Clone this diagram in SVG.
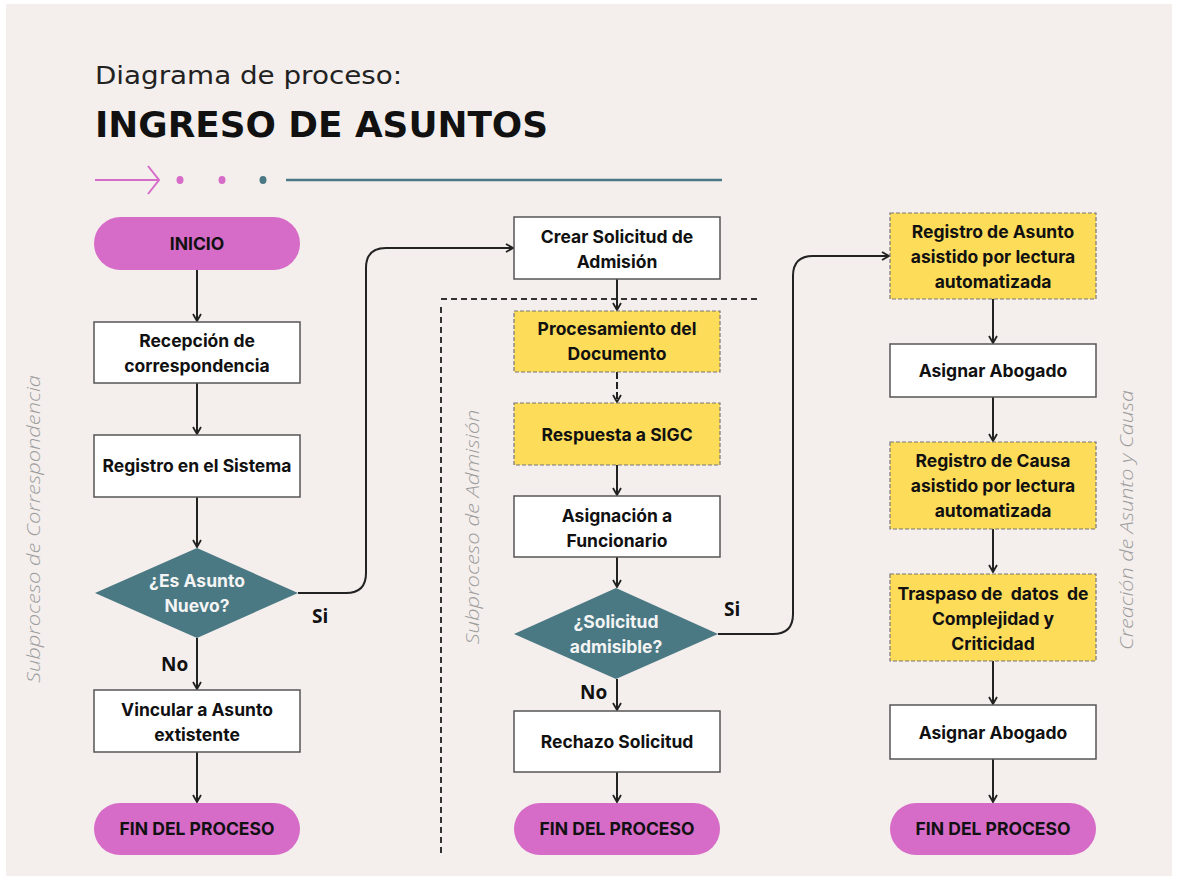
<svg xmlns="http://www.w3.org/2000/svg" width="1177" height="884" viewBox="0 0 1177 884">
<defs>
<style>
.bg{fill:#F4EFEC}
.pill{fill:#D66BC8}
.box{fill:#FFFFFF;stroke:#555;stroke-width:1.5}
.ybox{fill:#FDDC5A;stroke:#777;stroke-width:1.2;stroke-dasharray:4 2}
.dia{fill:#4A7984}
.lbl{font-family:Inter,'Liberation Sans',sans-serif;font-weight:700;font-size:17.5px;fill:#111;text-anchor:middle}
.wlbl{font-family:Inter,'Liberation Sans',sans-serif;font-weight:700;font-size:17.5px;fill:#F4F4F4;text-anchor:middle}
.yn{font-family:'Open Sans','Liberation Sans',sans-serif;font-weight:700;font-size:19px;fill:#111}
.side{font-family:'Open Sans','Liberation Sans',sans-serif;font-style:italic;font-weight:300;font-size:19px;fill:#9C9C9C;text-anchor:middle}
.con{fill:none;stroke:#222;stroke-width:2;marker-end:url(#ah)}
</style>
<marker id="ah" viewBox="0 0 10 10" refX="9" refY="5" markerWidth="10" markerHeight="10" markerUnits="userSpaceOnUse" orient="auto">
<path d="M2,1 L9,5 L2,9" fill="none" stroke="#222" stroke-width="1.8"/>
</marker>
</defs>
<rect x="0" y="0" width="1177" height="884" fill="#FFFFFF"/>
<rect class="bg" x="6" y="4" width="1166" height="872"/>

<g id="header">
<text x="95" y="84" font-family="'DejaVu Sans',sans-serif" font-size="24" fill="#222" textLength="307" lengthAdjust="spacingAndGlyphs">Diagrama de proceso:</text>
<text x="95" y="137" font-family="'DejaVu Sans',sans-serif" font-weight="700" font-size="36" fill="#111" textLength="453" lengthAdjust="spacingAndGlyphs">INGRESO DE ASUNTOS</text>
<path d="M95,180 H158 M148,166 L159,180 L148,194" fill="none" stroke="#D66BC8" stroke-width="2"/>
<ellipse cx="180" cy="180" rx="3.5" ry="4" fill="#D66BC8"/>
<ellipse cx="222" cy="180" rx="3.5" ry="4" fill="#D66BC8"/>
<ellipse cx="263" cy="180" rx="3.5" ry="4" fill="#4A7984"/>
<line x1="286" y1="180" x2="722" y2="180" stroke="#4A7984" stroke-width="2.5"/>
</g>

<g id="side-labels">
<text class="side" transform="translate(40,529) rotate(-90)" textLength="308" lengthAdjust="spacingAndGlyphs">Subproceso de Correspondencia</text>
<text class="side" transform="translate(479,527) rotate(-90)" textLength="235" lengthAdjust="spacingAndGlyphs">Subproceso de Admisión</text>
<text class="side" transform="translate(1133,520) rotate(-90)" textLength="260" lengthAdjust="spacingAndGlyphs">Creación de Asunto y Causa</text>
</g>

<g id="admision-boundary">
<path d="M441,299 H760 M441,307 V855" fill="none" stroke="#333" stroke-width="2" stroke-dasharray="6 4"/>
</g>

<g id="connectors">
<path class="con" d="M197,270 V321"/>
<path class="con" d="M197,383 V434"/>
<path class="con" d="M197,497 V547"/>
<path class="con" d="M197,638 V689"/>
<path class="con" d="M197,752 V802"/>
<path class="con" d="M298,593 H346 Q366,593 366,573 V268 Q366,248 386,248 H513"/>
<path class="con" d="M617,279 V310"/>
<path class="con" d="M617,372 V402" stroke-dasharray="7 3"/>
<path class="con" d="M617,465 V495"/>
<path class="con" d="M617,557 V587"/>
<path class="con" d="M617,679 V710"/>
<path class="con" d="M617,772 V802"/>
<path class="con" d="M718,634 H773 Q793,634 793,614 V276 Q793,256 813,256 H889"/>
<path class="con" d="M993,299 V343"/>
<path class="con" d="M993,397 V441"/>
<path class="con" d="M993,529 V572"/>
<path class="con" d="M993,661 V704"/>
<path class="con" d="M993,759 V802"/>
<text class="yn" x="312" y="623">Si</text>
<text class="yn" x="161" y="671">No</text>
<text class="yn" x="724" y="616">Si</text>
<text class="yn" x="580" y="699">No</text>
</g>

<g id="inicio">
<rect class="pill" x="94" y="217" width="206" height="53" rx="26.5"/>
<text class="lbl" x="197" y="250">INICIO</text>
</g>
<g id="recepcion">
<rect class="box" x="94" y="322" width="206" height="61"/>
<text class="lbl" x="197" y="347">Recepción de<tspan x="197" dy="25">correspondencia</tspan></text>
</g>
<g id="registro-sistema">
<rect class="box" x="94" y="435" width="206" height="62"/>
<text class="lbl" x="197" y="472">Registro en el Sistema</text>
</g>
<g id="es-asunto-nuevo">
<polygon class="dia" points="197,548 298,593 197,638 95,593"/>
<text class="wlbl" x="197" y="587">¿Es Asunto<tspan x="197" dy="25">Nuevo?</tspan></text>
</g>
<g id="vincular">
<rect class="box" x="94" y="690" width="206" height="62"/>
<text class="lbl" x="197" y="716">Vincular a Asunto<tspan x="197" dy="25">extistente</tspan></text>
</g>
<g id="fin-1">
<rect class="pill" x="94" y="803" width="206" height="52" rx="26"/>
<text class="lbl" x="197" y="835">FIN DEL PROCESO</text>
</g>

<g id="crear-solicitud">
<rect class="box" x="514" y="217" width="206" height="62"/>
<text class="lbl" x="617" y="243">Crear Solicitud de<tspan x="617" dy="25">Admisión</tspan></text>
</g>
<g id="procesamiento">
<rect class="ybox" x="514" y="311" width="206" height="61"/>
<text class="lbl" x="617" y="335">Procesamiento del<tspan x="617" dy="25">Documento</tspan></text>
</g>
<g id="respuesta-sigc">
<rect class="ybox" x="514" y="403" width="206" height="62"/>
<text class="lbl" x="617" y="441">Respuesta a SIGC</text>
</g>
<g id="asignacion-funcionario">
<rect class="box" x="514" y="496" width="206" height="61"/>
<text class="lbl" x="617" y="522">Asignación a<tspan x="617" dy="25">Funcionario</tspan></text>
</g>
<g id="solicitud-admisible">
<polygon class="dia" points="616,588 718,634 616,679 514,634"/>
<text class="wlbl" x="616" y="628">¿Solicitud<tspan x="616" dy="25">admisible?</tspan></text>
</g>
<g id="rechazo">
<rect class="box" x="514" y="711" width="206" height="61"/>
<text class="lbl" x="617" y="748">Rechazo Solicitud</text>
</g>
<g id="fin-2">
<rect class="pill" x="514" y="803" width="206" height="52" rx="26"/>
<text class="lbl" x="617" y="835">FIN DEL PROCESO</text>
</g>

<g id="registro-asunto">
<rect class="ybox" x="890" y="213" width="206" height="86"/>
<text class="lbl" x="993" y="238">Registro de Asunto<tspan x="993" dy="25">asistido por lectura</tspan><tspan x="993" dy="25">automatizada</tspan></text>
</g>
<g id="asignar-abogado-1">
<rect class="box" x="890" y="344" width="206" height="53"/>
<text class="lbl" x="993" y="377">Asignar Abogado</text>
</g>
<g id="registro-causa">
<rect class="ybox" x="890" y="442" width="206" height="87"/>
<text class="lbl" x="993" y="467">Registro de Causa<tspan x="993" dy="25">asistido por lectura</tspan><tspan x="993" dy="25">automatizada</tspan></text>
</g>
<g id="traspaso">
<rect class="ybox" x="890" y="574" width="206" height="87"/>
<text class="lbl" x="993" y="600" xml:space="preserve">Traspaso de  datos  de<tspan x="993" dy="25">Complejidad y</tspan><tspan x="993" dy="25">Criticidad</tspan></text>
</g>
<g id="asignar-abogado-2">
<rect class="box" x="890" y="705" width="206" height="54"/>
<text class="lbl" x="993" y="739">Asignar Abogado</text>
</g>
<g id="fin-3">
<rect class="pill" x="890" y="803" width="206" height="52" rx="26"/>
<text class="lbl" x="993" y="835">FIN DEL PROCESO</text>
</g>
</svg>
